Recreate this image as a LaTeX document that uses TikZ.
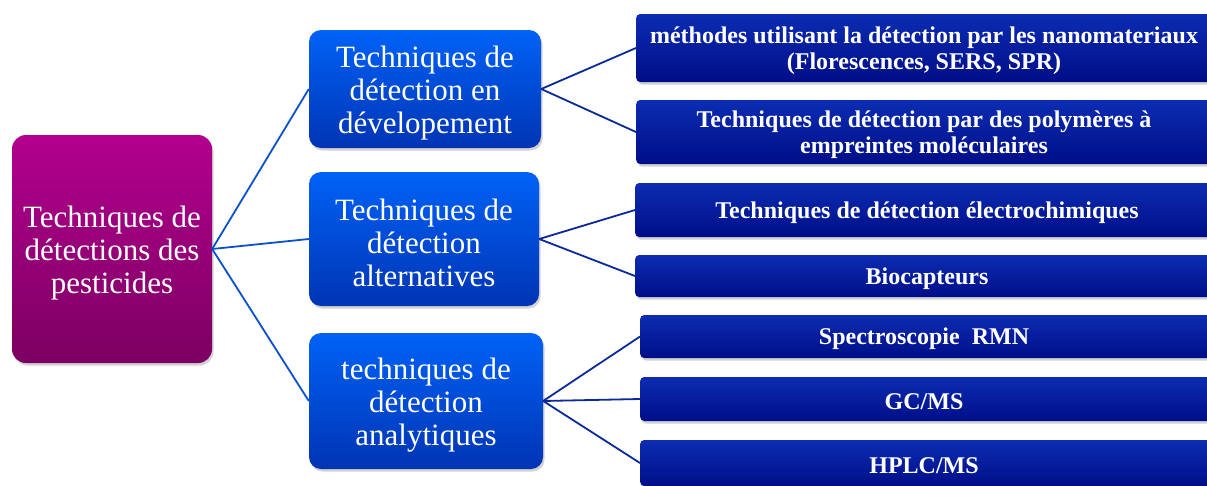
\documentclass[tikz,border=0pt]{standalone}
\usepackage{fontspec}
\setmainfont{Liberation Serif}
\usetikzlibrary{shadows}
\definecolor{rootTop}{HTML}{B2008E}
\definecolor{rootBot}{HTML}{7C0062}
\definecolor{midTop}{HTML}{0062F6}
\definecolor{midBot}{HTML}{0034B4}
\definecolor{leafTop}{HTML}{0C2CB2}
\definecolor{leafBot}{HTML}{000E88}
\definecolor{wire}{HTML}{0A52CC}
\definecolor{wireDark}{HTML}{0A2A9A}
\tikzset{
  boxshadow/.style={drop shadow={shadow xshift=1.5pt, shadow yshift=-2.5pt, opacity=0.35, fill=gray}},
  rootbox/.style={rounded corners=14pt, top color=rootTop, bottom color=rootBot, draw=none,
    inner sep=0pt, minimum width=200pt, minimum height=228pt, boxshadow},
  midbox/.style={rounded corners=12pt, top color=midTop, bottom color=midBot, draw=none,
    inner sep=0pt, boxshadow},
  bigtext/.style={text=white, align=center, inner sep=0pt, font=\fontsize{31}{33}\selectfont},
  leafbox/.style={rounded corners=4pt, top color=leafTop, bottom color=leafBot, draw=none,
    inner sep=0pt, anchor=west, boxshadow},
  leaftext/.style={text=white, align=center, inner sep=0pt,
    font=\fontsize{24}{26}\selectfont\bfseries},
  wire1/.style={draw=wire, line width=1.8pt},
  wire2/.style={draw=wireDark, line width=1.8pt},
}
\begin{document}
\begin{tikzpicture}[x=1pt,y=-1pt]
\useasboundingbox (0,0) rectangle (1207,485);
\clip (0,0) rectangle (1207,485);
\fill[white] (0,0) rectangle (1207,485);

\node[rootbox] (root) at (112,249) {};
\node[bigtext] (rootT) at ([yshift=-4pt]root.center) {Techniques de\\détections des\\pesticides};

\node[midbox, minimum width=232pt, minimum height=118pt] (m1) at (425,89) {};
\node[bigtext] (m1T) at ([yshift=-4pt]m1.center) {Techniques de\\détection en\\dévelopement};
\node[midbox, minimum width=230pt, minimum height=134pt] (m2) at (424,239) {};
\node[bigtext] (m2T) at ([yshift=-4pt]m2.center) {Techniques de\\détection\\alternatives};
\node[midbox, minimum width=234pt, minimum height=136pt] (m3) at (426,401) {};
\node[bigtext] (m3T) at ([yshift=-4pt]m3.center) {techniques de\\détection\\analytiques};

\node[leafbox, minimum width=580pt, minimum height=68pt] (l1) at (636,48) {};
\node[leaftext] (l1T) at (924,51) {méthodes utilisant la détection par les nanomateriaux\\(Florescences, SERS, SPR)};
\node[leafbox, minimum width=580pt, minimum height=64pt] (l2) at (636,132) {};
\node[leaftext] (l2T) at (924,135) {Techniques de détection par des polymères à\\empreintes moléculaires};
\node[leafbox, minimum width=580pt, minimum height=54pt] (l3) at (635,210) {};
\node[leaftext] (l3T) at (927,213) {Techniques de détection électrochimiques};
\node[leafbox, minimum width=580pt, minimum height=42pt] (l4) at (635,276) {};
\node[leaftext] (l4T) at (927,279) {Biocapteurs};
\node[leafbox, minimum width=575pt, minimum height=43pt] (l5) at (640,336.5) {};
\node[leaftext] (l5T) at (924,339) {Spectroscopie~ RMN};
\node[leafbox, minimum width=575pt, minimum height=44pt] (l6) at (640,399) {};
\node[leaftext] (l6T) at (924,402) {GC/MS};
\node[leafbox, minimum width=575pt, minimum height=46pt] (l7) at (640,463) {};
\node[leaftext] (l7T) at (924,466) {HPLC/MS};

\draw[wire1] (root.east) -- (m1.west);
\draw[wire1] (root.east) -- (m2.west);
\draw[wire1] (root.east) -- (m3.west);

\draw[wire2] (m1.east) -- (l1.west);
\draw[wire2] (m1.east) -- (l2.west);
\draw[wire2] (m2.east) -- (l3.west);
\draw[wire2] (m2.east) -- (l4.west);
\draw[wire2] (m3.east) -- (l5.west);
\draw[wire2] (m3.east) -- (l6.west);
\draw[wire2] (m3.east) -- (l7.west);
\end{tikzpicture}
\end{document}
